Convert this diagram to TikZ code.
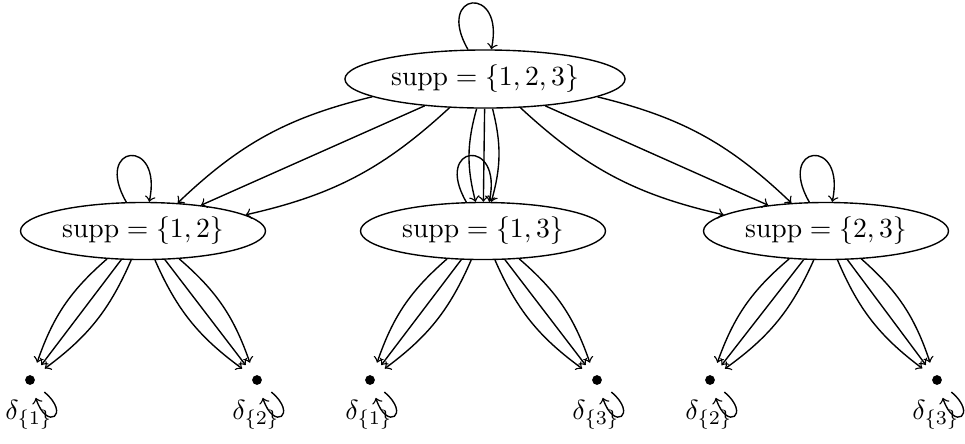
\documentclass[tikz,border=0pt]{standalone}
\usetikzlibrary{shapes.geometric,arrows}
\begin{document}
\begin{tikzpicture}[x=0.0127cm,y=-0.0127cm,line width=0.5pt,
  topbox/.style={ellipse,draw,inner sep=0pt,minimum width=3.556cm,minimum height=0.737cm},
  midbox/.style={ellipse,draw,inner sep=0pt,minimum width=3.11cm,minimum height=0.724cm},
  leafnode/.style={circle,inner sep=0pt,minimum size=0.457cm},
  leaflabel/.style={inner sep=0pt},
  edgearrow/.style={->,>=to},
  bigloop/.style={->,>=to,out=120,in=78,distance=0.85cm},
  smallloop/.style={->,>=to,out=-40,in=-72,distance=0.45cm}]
\useasboundingbox (0,0) rectangle (965,443);

\node[topbox] (t) at (485,79) {$\mathrm{supp} = \{1,2,3\}$};
\node[midbox] (m1) at (143,231) {$\mathrm{supp} = \{1,2\}$};
\node[midbox] (m2) at (483,231) {$\mathrm{supp} = \{1,3\}$};
\node[midbox] (m3) at (826,231) {$\mathrm{supp} = \{2,3\}$};

\foreach \n/\x in {l1/30,l2/257,l3/370,l4/597,l5/710,l6/937}{
  \node[leafnode] (\n) at (\x,380) {};
  \fill (\n.center) circle (0.062cm);
}
\node[leaflabel] (d1) at (29,415) {$\delta_{\{1\}}$};
\node[leaflabel] (d2) at (256,415) {$\delta_{\{2\}}$};
\node[leaflabel] (d3) at (369,415) {$\delta_{\{1\}}$};
\node[leaflabel] (d4) at (596,415) {$\delta_{\{3\}}$};
\node[leaflabel] (d5) at (709,415) {$\delta_{\{2\}}$};
\node[leaflabel] (d6) at (936,415) {$\delta_{\{3\}}$};

% loops
\draw[bigloop] (t) to (t);
\draw[bigloop] (m1) to (m1);
\draw[bigloop] (m2) to (m2);
\draw[bigloop] (m3) to (m3);
\foreach \n in {l1,l2,l3,l4,l5,l6}{
  \draw[smallloop] (\n) to (\n);
}

% top to middle
\foreach \m in {m1,m2,m3}{
  \draw[edgearrow] (t) to[bend left=15] (\m);
  \draw[edgearrow] (t) to (\m);
  \draw[edgearrow] (t) to[bend right=15] (\m);
}
% middle to leaves
\foreach \m/\a/\b in {m1/l1/l2,m2/l3/l4,m3/l5/l6}{
  \draw[edgearrow] (\m) to[bend left=15] (\a);
  \draw[edgearrow] (\m) to (\a);
  \draw[edgearrow] (\m) to[bend right=15] (\a);
  \draw[edgearrow] (\m) to[bend left=15] (\b);
  \draw[edgearrow] (\m) to (\b);
  \draw[edgearrow] (\m) to[bend right=15] (\b);
}
\end{tikzpicture}
\end{document}
